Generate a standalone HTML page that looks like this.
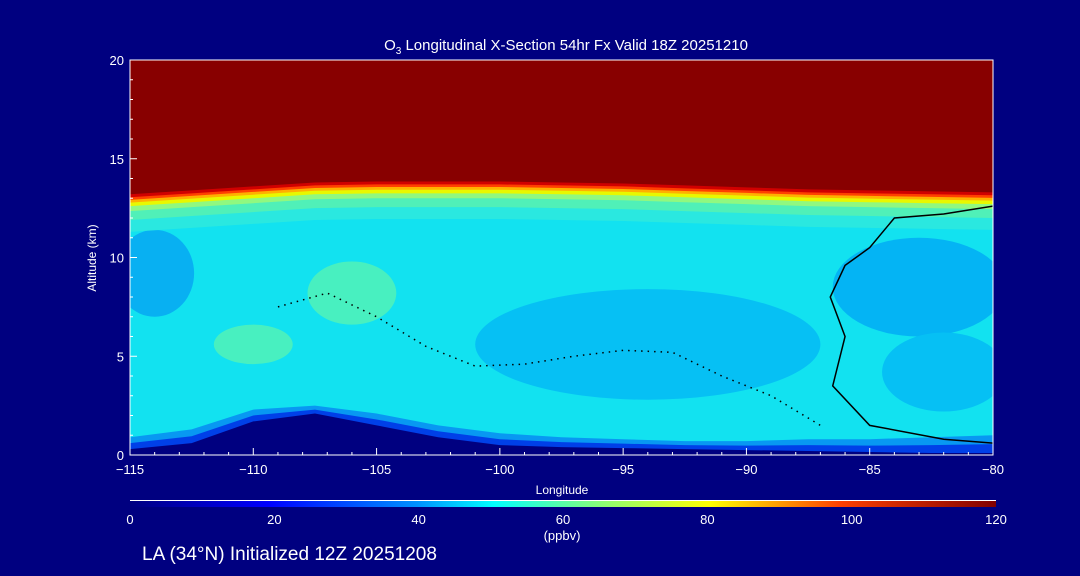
<!DOCTYPE html>
<html><head><meta charset="utf-8"><style>
html,body{margin:0;padding:0;background:#000080;}
svg{display:block;font-family:"Liberation Sans","DejaVu Sans",sans-serif;}
</style></head><body>
<svg id="chart" width="1080" height="576" viewBox="0 0 1080 576">
<defs>
<linearGradient id="cbar" x1="0" x2="1" y1="0" y2="0">
<stop offset="0" stop-color="#000080"/><stop offset="0.16" stop-color="#0000ff"/>
<stop offset="0.33" stop-color="#0090ff"/><stop offset="0.42" stop-color="#00ffff"/>
<stop offset="0.55" stop-color="#90ff70"/><stop offset="0.67" stop-color="#ffff00"/>
<stop offset="0.82" stop-color="#ff4000"/><stop offset="1" stop-color="#800000"/>
</linearGradient>
<clipPath id="plotclip"><rect x="130" y="60" width="863" height="395"/></clipPath>
</defs>
<rect width="1080" height="576" fill="#000080"/>
<text x="566" y="50" fill="#fff" font-size="15" text-anchor="middle">O<tspan font-size="10" dy="4">3</tspan><tspan dy="-4"> Longitudinal X-Section 54hr  Fx Valid 18Z 20251210</tspan></text>
<g id="field" clip-path="url(#plotclip)"></g>
<g id="contours" clip-path="url(#plotclip)"></g>
<rect x="130" y="60" width="863" height="395" fill="none" stroke="#fff" stroke-width="1"/>
<g id="axes"></g>
<text x="562" y="494" fill="#fff" font-size="12" text-anchor="middle">Longitude</text>
<text transform="translate(96,258) rotate(-90)" fill="#fff" font-size="12" text-anchor="middle">Altitude (km)</text>
<line x1="130" y1="500.5" x2="996" y2="500.5" stroke="#fff" stroke-width="1"/>
<rect x="130" y="501" width="866" height="6" fill="url(#cbar)"/>
<g id="cbticks"></g>
<text x="562" y="540" fill="#fff" font-size="13" text-anchor="middle">(ppbv)</text>
<text x="142" y="560" fill="#fff" font-size="19">LA (34°N) Initialized 12Z 20251208</text>
</svg>
<script>
const lons = [-115,-112.5,-110,-107.5,-105,-102.5,-100,-97.5,-95,-92.5,-90,-87.5,-85,-82.5,-80];
const tropAlt = [12.9,13.1,13.3,13.5,13.55,13.55,13.55,13.5,13.45,13.35,13.25,13.15,13.1,13.05,13.0];
const terrainAlt = [0.3,0.6,1.7,2.1,1.5,0.9,0.5,0.4,0.35,0.3,0.25,0.2,0.15,0.1,0.1];
const lowBandAlt = [0.9,1.3,2.3,2.5,2.1,1.5,1.1,0.9,0.8,0.7,0.7,0.8,0.8,0.9,1.0];
const xTicks = [-115,-110,-105,-100,-95,-90,-85,-80];
const yTicks = [0,5,10,15,20];
const cbarTicks = [0,20,40,60,80,100,120];
const blobLon = [-114,-106,-110,-94,-83,-82];
const blobAlt = [9.2,8.2,5.6,5.6,8.5,4.2];
const blobRLon = [1.6,1.8,1.6,7.0,3.5,2.5];
const blobRAlt = [2.2,1.6,1.0,2.8,2.5,2.0];
const blobColor = ['#08b0f2','#48f0c0','#48f0c0','#06c0f4','#04b4f4','#06c0f4'];
const contourZeroLon = [-80,-82,-84,-85,-86,-86.6,-86,-86.5,-85,-82,-80];
const contourZeroAlt = [12.6,12.2,12.0,10.5,9.6,8.0,6.0,3.5,1.5,0.8,0.6];
const contourDotLon = [-109,-107,-105,-103,-101,-99,-97,-95,-93,-91,-89,-87];
const contourDotAlt = [7.5,8.2,7.0,5.5,4.5,4.6,5.0,5.3,5.2,4.0,3.0,1.5];

const X = lon => 130 + (lon + 115) / 35 * 863;
const Y = alt => 455 - alt / 20 * 395;
const NS = 'http://www.w3.org/2000/svg';
function mk(tag, attrs, parent){const e=document.createElementNS(NS,tag);for(const k in attrs)e.setAttribute(k,attrs[k]);parent.appendChild(e);return e;}
const field = document.getElementById('field');
const contours = document.getElementById('contours');
const axes = document.getElementById('axes');

let base = mk('rect',{x:130,y:60,width:863,height:395,fill:'#12e2f0'},field);



blobLon.forEach((lo,i)=>{
  const b = mk('ellipse',{cx:X(lo),cy:Y(blobAlt[i]),rx:blobRLon[i]/35*863,ry:blobRAlt[i]/20*395,fill:blobColor[i]},field);
  
  
});

function bandPath(offset){
  let d = 'M130,60 ';
  lons.forEach((lo,i)=>{d += 'L'+X(lo)+','+Y(tropAlt[i]+offset)+' ';});
  return d + 'L993,60 Z';
}
const bands = [[-1.6,'#2ae8e0'],[-1.0,'#50f0b8'],[-0.55,'#90f880'],[-0.3,'#e8f800'],[-0.12,'#ffb000'],[0.02,'#ff4000'],[0.15,'#d00000'],[0.3,'#880000']];
bands.forEach(b=>{
  const p = mk('path',{d:bandPath(b[0]),fill:b[1]},field);
  
  
});

function groundPath(arr){
  let d = 'M130,455 ';
  lons.forEach((lo,i)=>{d += 'L'+X(lo)+','+Y(arr[i])+' ';});
  return d + 'L993,455 Z';
}
let lb = mk('path',{d:groundPath(lowBandAlt),fill:'#0898f2'},field);


let lb2 = mk('path',{d:groundPath(lowBandAlt.map((v,i)=>(v+terrainAlt[i])/2)),fill:'#0040e8'},field);


let tr = mk('path',{d:groundPath(terrainAlt),fill:'#000080'},field);



let c0 = mk('polyline',{points:contourZeroLon.map((lo,i)=>X(lo)+','+Y(contourZeroAlt[i])).join(' '),fill:'none',stroke:'#000','stroke-width':1.5},contours);


let c1 = mk('polyline',{points:contourDotLon.map((lo,i)=>X(lo)+','+Y(contourDotAlt[i])).join(' '),fill:'none',stroke:'#000','stroke-width':1.5,'stroke-dasharray':'1.5 5'},contours);



for(let lo=-115; lo<=-80; lo++){
  const major = xTicks.includes(lo);
  const t = mk('line',{x1:X(lo),x2:X(lo),y1:455,y2:major?448:452,stroke:'#fff'},axes);
  
  
}
xTicks.forEach(lo=>{
  const t = mk('text',{x:X(lo),y:474,fill:'#fff','font-size':13,'text-anchor':'middle'},axes);
  t.textContent = (lo<0?'\u2212'+(-lo):lo);
  
  
});
for(let a=0;a<=20;a++){
  const major = yTicks.includes(a);
  const t = mk('line',{x1:130,x2:major?137:133,y1:Y(a),y2:Y(a),stroke:'#fff'},axes);
  
  
}
yTicks.forEach(a=>{
  const t = mk('text',{x:124,y:Y(a)+5,fill:'#fff','font-size':13,'text-anchor':'end'},axes);
  t.textContent = a;
  
  
});
const cb = document.getElementById('cbticks');
cbarTicks.forEach(v=>{
  const t = mk('text',{x:130+v/120*866,y:524,fill:'#fff','font-size':13,'text-anchor':'middle'},cb);
  t.textContent = v;
  
  
});
</script>
</body></html>
